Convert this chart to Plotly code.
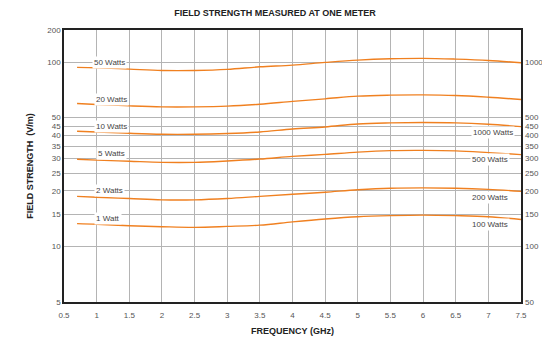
import math
import plotly.graph_objects as go

freq = [0.7, 1.0, 1.5, 2.0, 2.5, 3.0, 3.5, 4.0, 4.5, 5.0, 5.5, 6.0, 6.5, 7.0, 7.5]

w50 = [93.6, 93.1, 91.6, 90.1, 90.1, 91.3, 94.3, 96.3, 99.6, 102.5, 104.2, 104.8, 103.8, 102.1, 99.1]
w20 = [59.6, 58.9, 57.9, 57.2, 57.2, 57.7, 59.1, 61.2, 63.2, 65.4, 66.2, 66.4, 65.9, 64.5, 62.7]
w10 = [42.2, 41.8, 41.1, 40.6, 40.6, 41.0, 41.8, 43.4, 44.5, 46.2, 46.8, 47.0, 46.8, 46.0, 44.7]
w5 = [29.7, 29.4, 29.0, 28.6, 28.6, 29.1, 29.8, 30.8, 31.6, 32.5, 33.1, 33.2, 33.0, 32.3, 31.5]
w2 = [18.7, 18.5, 18.2, 17.9, 17.9, 18.2, 18.7, 19.2, 19.7, 20.3, 20.7, 20.8, 20.7, 20.4, 19.9]
w1 = [13.3, 13.2, 12.96, 12.8, 12.7, 12.85, 13.06, 13.6, 14.1, 14.5, 14.7, 14.8, 14.7, 14.5, 14.0]

series = [w50, w20, w10, w5, w2, w1]

left_labels = ["50 Watts", "20 Watts", "10 Watts", "5 Watts", "2 Watts", "1 Watt"]
left_label_x = [1.2, 1.23, 1.23, 1.23, 1.2, 1.17]
left_label_y = [100, 62.7, 45, 32.0, 20, 14.1]

right_labels = ["1000 Watts", "500 Watts", "200 Watts", "100 Watts"]
right_label_x = [7.07, 7.03, 7.03, 7.03]
right_label_y = [41.5, 29.7, 18.5, 13.2]

y_top = 149.3  # top of the chart, labelled "200"
left_ticks = [5, 10, 15, 20, 25, 30, 35, 40, 45, 50, 100, y_top]
left_ticktext = ["5", "10", "15", "20", "25", "30", "35", "40", "45", "50", "100", "200"]
right_ticks = [50, 100, 150, 200, 250, 300, 350, 400, 450, 500, 1000]
right_ticktext = [str(v) for v in right_ticks]
x_ticks = [0.5 + 0.5 * i for i in range(15)]
x_ticktext = ["0.5", "1", "1.5", "2", "2.5", "3", "3.5", "4", "4.5", "5", "5.5", "6", "6.5", "7", "7.5"]

ORANGE = "#f08020"
FONT = "Liberation Sans, Arial, sans-serif"

fig = go.Figure()
for s in series:
    fig.add_trace(go.Scatter(x=freq, y=s, mode="lines", line=dict(color=ORANGE, width=1.4, shape="spline"),
                             showlegend=False, hoverinfo="skip"))

# invisible trace so the right axis is drawn
fig.add_trace(go.Scatter(x=[freq[0]] * len(right_ticks), y=right_ticks, yaxis="y2", mode="markers",
                         marker=dict(opacity=0), showlegend=False, hoverinfo="skip"))

for t, x, y in zip(left_labels, left_label_x, left_label_y):
    fig.add_annotation(x=x, y=math.log10(y), text=t, showarrow=False, bgcolor="white",
                       font=dict(family=FONT, size=8, color="#444"), borderpad=1)
for t, x, y in zip(right_labels, right_label_x, right_label_y):
    fig.add_annotation(x=x, y=math.log10(y), text=t, showarrow=False, bgcolor="white",
                       font=dict(family=FONT, size=8, color="#444"), borderpad=1)

fig.update_layout(
    width=550, height=341,
    margin=dict(l=56, r=37, t=22, b=47, autoexpand=False),
    paper_bgcolor="white", plot_bgcolor="white",
    title=dict(text="<b>FIELD STRENGTH MEASURED AT ONE METER</b>", x=(275 - 8) / 550, xanchor="center",
               y=1 - 5 / 341, yanchor="middle", font=dict(family=FONT, size=9, color="#222")),
    xaxis=dict(range=[0.5, 7.5], tickvals=x_ticks, ticktext=x_ticktext,
               showgrid=True, gridcolor="#b4b4b4", gridwidth=1.2,
               showline=True, linecolor="#222", linewidth=1.5, mirror=True,
               ticks="", tickfont=dict(family=FONT, size=8, color="#555"), ticklabelstandoff=5,
               title=dict(text="<b>FREQUENCY (GHz)</b>", font=dict(family=FONT, size=9, color="#222"), standoff=8),
               zeroline=False, automargin=False),
    yaxis=dict(type="log", range=[math.log10(5), math.log10(y_top)], tickvals=left_ticks, ticktext=left_ticktext,
               showgrid=True, gridcolor="#b4b4b4", gridwidth=1.2,
               showline=True, linecolor="#222", linewidth=1.5, mirror=True,
               ticks="", tickfont=dict(family=FONT, size=8, color="#555"),
               title=dict(text="<b>FIELD STRENGTH  (V/m)</b>", font=dict(family=FONT, size=9, color="#222"), standoff=12),
               zeroline=False, automargin=False),
    yaxis2=dict(type="log", range=[math.log10(50), math.log10(y_top * 10)], tickvals=right_ticks,
                ticktext=right_ticktext, overlaying="y", side="right", showgrid=False,
                showline=False, ticks="", tickfont=dict(family=FONT, size=8, color="#555"), zeroline=False,
                ticklabelstandoff=3, automargin=False),
)

fig.write_html("out.html")
